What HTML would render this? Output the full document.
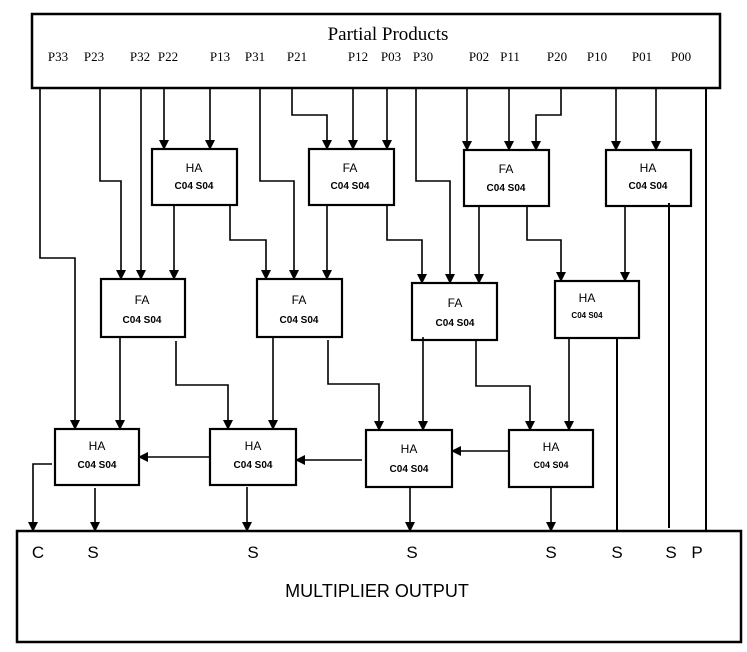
<!DOCTYPE html>
<html><head><meta charset="utf-8"><style>body{margin:0;background:#fff}svg{display:block}</style></head><body>
<svg width="747" height="652" viewBox="0 0 747 652" xmlns="http://www.w3.org/2000/svg">
<defs><marker id="a" markerWidth="10" markerHeight="10" refX="9" refY="5" orient="auto" markerUnits="userSpaceOnUse"><path d="M0,0 L10,5 L0,10 z" fill="#000"/></marker></defs>
<g fill="none" stroke="#000" stroke-width="1.6">
<rect x="32" y="14" width="688" height="74" stroke-width="2.5"/>
<rect x="17" y="531" width="724" height="111" stroke-width="2.5"/>
<g stroke-width="2.2">
<rect x="152" y="149" width="85" height="56"/><rect x="309" y="149" width="85" height="56"/><rect x="464" y="150" width="85" height="56"/><rect x="606" y="150" width="85" height="56"/>
<rect x="101" y="279" width="84" height="58"/><rect x="257" y="279" width="85" height="58"/><rect x="412" y="283" width="85" height="57"/><rect x="555" y="281" width="84" height="57"/>
<rect x="55" y="429" width="84" height="56"/><rect x="210" y="429" width="86" height="56"/><rect x="366" y="430" width="86" height="57"/><rect x="509" y="430" width="84" height="57"/>
</g>
<g marker-end="url(#a)">
<polyline points="40,88 40,258 75,258 75,429"/>
<polyline points="100,88 100,181 121,181 121,279"/>
<polyline points="141,88 141,279"/>
<polyline points="164,88 164,149"/>
<polyline points="210,88 210,149"/>
<polyline points="260,88 260,181 294,181 294,279"/>
<polyline points="292,88 292,115 327,115 327,149"/>
<polyline points="353,88 353,149"/>
<polyline points="387,88 387,149"/>
<polyline points="416,88 416,181 450,181 450,283"/>
<polyline points="467,88 467,150"/>
<polyline points="509,88 509,150"/>
<polyline points="561,88 561,115 536,115 536,150"/>
<polyline points="616,88 616,150"/>
<polyline points="656,88 656,150"/>
<polyline points="174,205 174,279"/>
<polyline points="230,205 230,240 266,240 266,279"/>
<polyline points="327,205 327,279"/>
<polyline points="387,205 387,240 422,240 422,283"/>
<polyline points="479,206 479,283"/>
<polyline points="527,206 527,240 561,240 561,281"/>
<polyline points="625,206 625,281"/>
<polyline points="120,337 120,429"/>
<polyline points="176,341 176,385 228,385 228,429"/>
<polyline points="273,337 273,429"/>
<polyline points="328,340 328,384 379,384 379,430"/>
<polyline points="423,337 423,430"/>
<polyline points="476,340 476,386 530,386 530,430"/>
<polyline points="569,338 569,430"/>
<polyline points="210,457 139,457"/>
<polyline points="362,460 296,460"/>
<polyline points="509,451 452,451"/>
<polyline points="52,464 33,464 33,531"/>
<polyline points="95,488 95,531"/>
<polyline points="247,487 247,531"/>
<polyline points="410,488 410,531"/>
<polyline points="551,488 551,531"/>
</g>
<line x1="706" y1="88" x2="706" y2="531" stroke-width="2"/>
<line x1="669" y1="203" x2="669" y2="528" stroke-width="2"/>
<line x1="617" y1="338" x2="617" y2="531" stroke-width="2"/>
</g>
<g font-family="Liberation Serif, serif" fill="#000">
<text x="388" y="40" font-size="19" text-anchor="middle">Partial Products</text>
<g font-size="13" text-anchor="middle">
<text x="58" y="61">P33</text><text x="94" y="61">P23</text><text x="140" y="61">P32</text><text x="168" y="61">P22</text><text x="220" y="61">P13</text><text x="255" y="61">P31</text><text x="297" y="61">P21</text><text x="358" y="61">P12</text><text x="391" y="61">P03</text><text x="423" y="61">P30</text><text x="479" y="61">P02</text><text x="510" y="61">P11</text><text x="557" y="61">P20</text><text x="597" y="61">P10</text><text x="642" y="61">P01</text><text x="681" y="61">P00</text>
</g></g>
<g font-family="Liberation Sans, sans-serif" fill="#000" text-anchor="middle">
<g font-size="12">
<text x="194" y="172">HA</text><text x="350" y="172">FA</text><text x="506" y="173">FA</text><text x="648" y="172">HA</text>
<text x="142" y="304">FA</text><text x="299" y="304">FA</text><text x="455" y="307">FA</text><text x="587" y="302">HA</text>
<text x="97" y="450">HA</text><text x="253" y="450">HA</text><text x="409" y="453">HA</text><text x="551" y="451">HA</text>
</g>
<g font-size="10" font-weight="bold">
<text x="194" y="189">C04  S04</text><text x="350" y="189">C04  S04</text><text x="506" y="191">C04  S04</text><text x="648" y="189">C04  S04</text>
<text x="142" y="323">C04  S04</text><text x="299" y="323">C04  S04</text><text x="455" y="326">C04  S04</text><text x="587" y="318" font-size="8">C04  S04</text>
<text x="97" y="468">C04  S04</text><text x="253" y="468">C04  S04</text><text x="409" y="472">C04  S04</text><text x="551" y="468" font-size="9">C04  S04</text>
</g>
<g font-size="17">
<text x="38" y="558">C</text><text x="93" y="558">S</text><text x="253" y="558">S</text><text x="412" y="558">S</text><text x="551" y="558">S</text><text x="617" y="558">S</text><text x="671" y="558">S</text><text x="697" y="558">P</text>
</g>
<text x="377" y="597" font-size="18">MULTIPLIER OUTPUT</text>
</g>
</svg>
</body></html>
